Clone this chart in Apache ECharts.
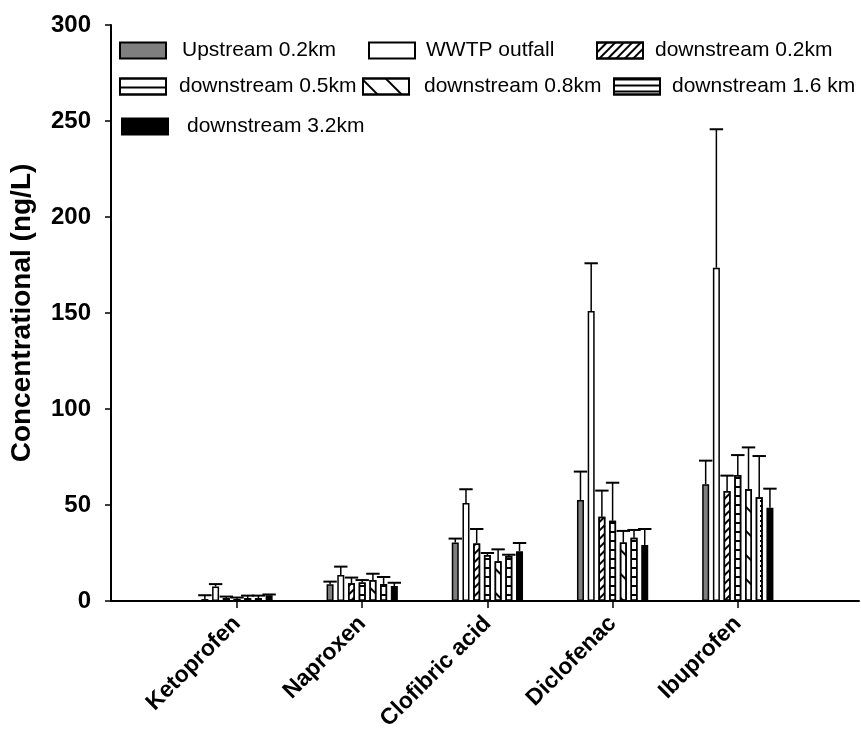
<!DOCTYPE html>
<html><head><meta charset="utf-8">
<script src="https://cdn.jsdelivr.net/npm/echarts@6/dist/echarts.min.js"></script>
<style>html,body{margin:0;padding:0;background:#fff}#c{width:861px;height:747px}</style>
</head><body><div id="c"></div>
<script>
// ---- data ----
const categories = ['Ketoprofen', 'Naproxen', 'Clofibric acid', 'Diclofenac', 'Ibuprofen'];
const seriesNames = ['Upstream 0.2km', 'WWTP outfall', 'downstream 0.2km', 'downstream 0.5km', 'downstream 0.8km', 'downstream 1.6 km', 'downstream 3.2km'];
const yTicks = [0, 50, 100, 150, 200, 250, 300];

// means
const upstream02   = [1.0, 8.7, 30.5, 52.6, 60.8];
const wwtpOutfall  = [7.5, 13.5, 51.0, 151.0, 173.6];
const downstream02 = [1.5, 9.2, 30.0, 43.9, 57.3];
const downstream05 = [1.0, 9.7, 24.0, 41.8, 65.6];
const downstream08 = [1.5, 10.9, 20.7, 30.5, 58.2];
const downstream16 = [1.5, 8.9, 23.4, 33.0, 54.0];
const downstream32 = [3.0, 7.8, 25.9, 29.2, 48.6];
// upper ends of error bars (mean + SD)
const upstream02Err   = [3.0, 10.1, 32.5, 67.4, 73.1];
const wwtpOutfallErr  = [8.8, 17.9, 58.2, 175.9, 245.7];
const downstream02Err = [2.3, 12.2, 37.5, 57.5, 65.3];
const downstream05Err = [1.8, 10.9, 25.0, 61.6, 76.0];
const downstream08Err = [2.8, 14.2, 26.9, 36.5, 80.0];
const downstream16Err = [2.8, 12.5, 24.1, 37.0, 75.5];
const downstream32Err = [3.4, 9.5, 30.2, 37.5, 58.5];

const means = [upstream02, wwtpOutfall, downstream02, downstream05, downstream08, downstream16, downstream32];
const errs = [upstream02Err, wwtpOutfallErr, downstream02Err, downstream05Err, downstream08Err, downstream16Err, downstream32Err];

// ---- styles ----
const FONT = "'Liberation Sans', Arial, sans-serif";
const BAR_W = 7, BAR_GAP = 0.53, PITCH = BAR_W * (1 + BAR_GAP), CAP = 6.7;
const T = 'rgba(0,0,0,0)';
const hatchUp = {symbol: 'rect', symbolSize: 1, dashArrayX: [1, 0], dashArrayY: [1.2, 3.4], rotation: -Math.PI / 4, color: '#000', backgroundColor: T};
const hLines = {symbol: 'rect', symbolSize: 1, dashArrayX: [1, 0], dashArrayY: [1.4, 6.9], rotation: 0, color: '#000', backgroundColor: T};
const hatchDown = {symbol: 'rect', symbolSize: 1, dashArrayX: [1, 0], dashArrayY: [1.4, 15], rotation: Math.PI / 4, color: '#000', backgroundColor: T};
const dots = {symbol: 'rect', symbolSize: 1, dashArrayX: [1.2, 2.8], dashArrayY: [1.2, 2.8], rotation: 0, color: '#000', backgroundColor: T};
const legendLines1 = {symbol: 'rect', symbolSize: 1, dashArrayX: [1, 0], dashArrayY: [0, 7.3, 1.4, 7.3], rotation: 0, color: '#000', backgroundColor: T};
const legendLines2 = {symbol: 'rect', symbolSize: 1, dashArrayX: [1, 0], dashArrayY: [1.4, 3.9], rotation: 0, color: '#000', backgroundColor: T};
const fills = ['#7f7f7f', '#fff', '#fff', '#fff', '#fff', '#fff', '#000'];
const decals = [null, null, hatchUp, hLines, hatchDown, hLines, null];
const legendDecals = [null, null, hatchUp, legendLines1, hatchDown, legendLines2, null];

const barSeries = seriesNames.map((name, s) => ({
  name, type: 'bar', xAxisIndex: 1, yAxisIndex: 1,
  barWidth: BAR_W, barGap: (BAR_GAP * 100) + '%',
  itemStyle: Object.assign({color: fills[s], borderColor: '#000', borderWidth: 1.5}, decals[s] ? {decal: decals[s]} : {}),
  data: means[s].map((v, c) => (s === 5 && c === 4) ? {value: v, itemStyle: {decal: dots}} : v),
  z: 2
}));

const errData = [];
means.forEach((arr, s) => arr.forEach((v, c) => errData.push([c, s, v, errs[s][c]])));

const errSeries = {
  type: 'custom', xAxisIndex: 1, yAxisIndex: 1, z: 3,
  encode: {x: 0, y: [2, 3]},
  data: errData,
  renderItem: function (params, api) {
    const c = api.value(0), s = api.value(1), v = api.value(2), e = api.value(3);
    const b = api.coord([c, v]);
    const t = api.coord([c, e]);
    const x = b[0] + (s - 3) * PITCH;
    return {type: 'group', children: [
      {type: 'line', shape: {x1: x, y1: b[1], x2: x, y2: t[1]}, style: {stroke: '#000', lineWidth: 1.5}},
      {type: 'line', shape: {x1: x - CAP, y1: t[1], x2: x + CAP, y2: t[1]}, style: {stroke: '#000', lineWidth: 2}}
    ]};
  }
};

const legendPos = [
  {left: 119, top: 40, pad: 11},
  {left: 368, top: 40, pad: 6},
  {left: 596, top: 40, pad: 7},
  {left: 119, top: 76, pad: 8},
  {left: 362, top: 76, pad: 10},
  {left: 613, top: 76, pad: 7},
  {left: 121, top: 116, pad: 14}
];
const legends = seriesNames.map((n, i) => ({
  left: legendPos[i].left, top: legendPos[i].top, padding: 0,
  icon: 'rect', itemWidth: 46, itemHeight: 16, selectedMode: false,
  data: [legendDecals[i] ? {name: n, itemStyle: {decal: legendDecals[i]}} : n],
  textStyle: {fontFamily: FONT, fontSize: 21, color: '#000', padding: [0, 0, 0, legendPos[i].pad]}
}));

const chart = echarts.init(document.getElementById('c'), null, {renderer: 'canvas'});
chart.setOption({
  animation: false,
  backgroundColor: '#fff',
  legend: legends,
  grid: [
    {left: 111, right: 2, top: 25, bottom: 146, containLabel: false, outerBoundsMode: 'none'},
    {left: 174.4, width: 626, top: 25, bottom: 146, containLabel: false, outerBoundsMode: 'none'}
  ],
  xAxis: [
    {gridIndex: 0, type: 'value', min: 0, max: 1, axisLine: {show: true, onZero: false, lineStyle: {color: '#000', width: 2}},
      axisTick: {show: false}, axisLabel: {show: false}, splitLine: {show: false}},
    {gridIndex: 1, type: 'category', data: categories, boundaryGap: true,
      axisLine: {show: false}, axisTick: {show: true, alignWithLabel: true, length: 7, lineStyle: {color: '#000', width: 1.5}},
      axisLabel: {rotate: 45, interval: 0, margin: 19, fontFamily: FONT, fontWeight: 'bold', fontSize: 23, color: '#000'}}
  ],
  yAxis: [
    {gridIndex: 0, type: 'value', min: 0, max: 300, interval: 50,
      name: 'Concentrational (ng/L)', nameLocation: 'middle', nameGap: 75, nameRotate: 90,
      nameTextStyle: {fontFamily: FONT, fontWeight: 'bold', fontSize: 28, color: '#000'},
      axisLine: {show: true, lineStyle: {color: '#000', width: 2}},
      axisTick: {show: true, length: 6, lineStyle: {color: '#000', width: 1.5}},
      axisLabel: {margin: 20, fontFamily: FONT, fontWeight: 'bold', fontSize: 24, color: '#000',
        customValues: yTicks},
      splitLine: {show: false}},
    {gridIndex: 1, type: 'value', min: 0, max: 300, interval: 50, show: false, splitLine: {show: false}}
  ],
  series: barSeries.concat([errSeries])
});
</script></body></html>
